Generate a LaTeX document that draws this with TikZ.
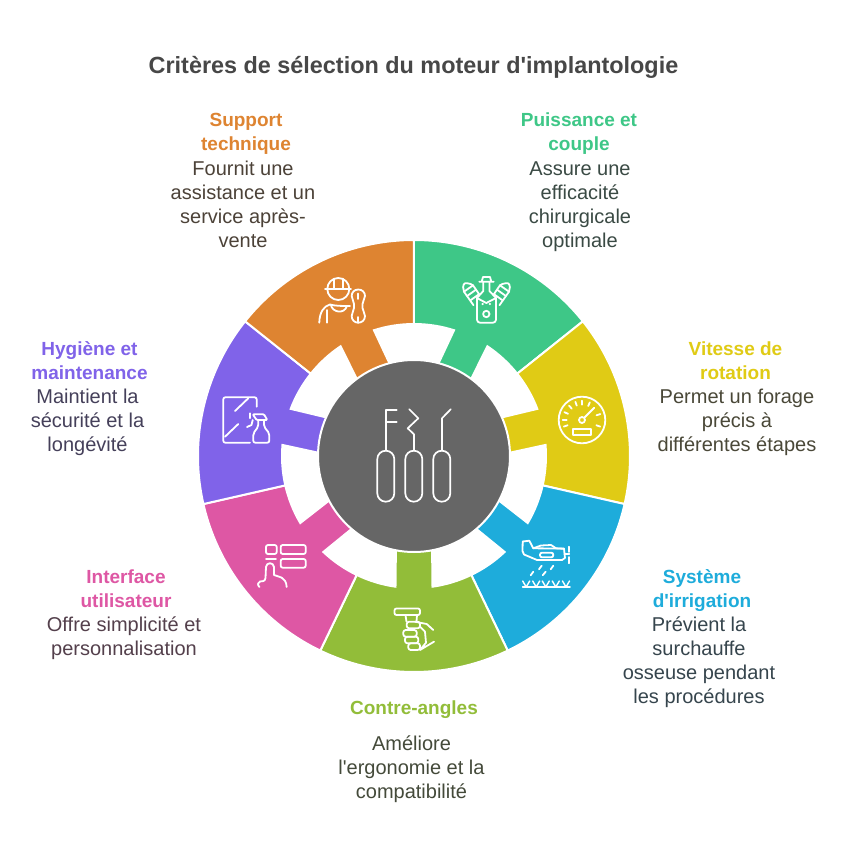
\documentclass[tikz,border=0pt]{standalone}
\usepackage{fontspec}
\setmainfont{Liberation Sans}[Ligatures=TeXOff]
\definecolor{sgreen}{HTML}{3EC787}
\definecolor{syellow}{HTML}{E0CB15}
\definecolor{sblue}{HTML}{1EACDB}
\definecolor{solive}{HTML}{92BD39}
\definecolor{spink}{HTML}{DE57A4}
\definecolor{spurple}{HTML}{8063E9}
\definecolor{sorange}{HTML}{DE8431}
\definecolor{tgreen}{HTML}{3A4A44}
\definecolor{tyellow}{HTML}{4A4838}
\definecolor{tblue}{HTML}{36454D}
\definecolor{tolive}{HTML}{444A3A}
\definecolor{tpink}{HTML}{54404C}
\definecolor{tpurple}{HTML}{45405A}
\definecolor{torange}{HTML}{4C4238}
\newcommand\fs{\rule{0pt}{18pt}}
\newcommand\ls{\rule[-6pt]{0pt}{6pt}}
\tikzset{
  sector/.style={draw=white,line width=2pt,line join=miter},
  ico/.style={draw=white,line width=1.8pt,line cap=round,line join=round},
  lab/.style={align=center,inner sep=0pt,font=\fontsize{20}{24}\selectfont},
  hd/.style={align=center,inner sep=0pt,font=\fontsize{19}{24}\selectfont\bfseries},
}
\newcommand\enginepiston{%
    \draw[ico] (479,294)--(473,285.3) (473.5,305.2)--(464,291.7);
    \draw[ico] (473,285.3) .. controls (470,283) and (465,283) .. (464.5,283.5) .. controls (463,285) and (462.5,289) .. (464,291.7);
    \draw[ico] (473,285.3)--(464,291.7) (476.1,289.6)--(467.1,296) (479.3,294)--(470.3,300.4);
}
\begin{document}
\begin{tikzpicture}[x=1pt,y=1pt]
\useasboundingbox (-414,-396) rectangle (432,456);
\fill[white] (-414,-396) rectangle (432,456);
\foreach \a/\c in {90/sgreen,38.5714/syellow,-12.8571/sblue,-64.2857/solive,-115.7143/spink,-167.1429/spurple,-218.5714/sorange}{
  \pgfmathsetmacro\b{\a-51.4286}
  \pgfmathsetmacro\m{\a-25.7143}
  \fill[\c,sector] (\a:216) arc[start angle=\a,end angle=\b,radius=216pt]
    -- (\b:132) arc[start angle=\b,end angle={\m-8.06},radius=132pt]
    -- ({\m-11.1}:94) arc[start angle={\m-11.1},end angle={\m+11.1},radius=94pt]
    -- ({\m+8.06}:132) arc[start angle={\m+8.06},end angle=\a,radius=132pt] -- cycle;
}
\fill[black!60,draw=white,line width=2pt] (0,0) circle[radius=96pt];
\begin{scope}[shift={(-414,456)},yscale=-1]
  % centre
  \draw[ico,line width=1.7pt,rounded corners=8.4pt] (377.3,450.7) rectangle (394.3,501.7);
  \draw[ico,line width=1.7pt,rounded corners=8.4pt] (405.3,450.7) rectangle (422.3,501.7);
  \draw[ico,line width=1.7pt,rounded corners=8.4pt] (433.3,450.7) rectangle (450.3,501.7);
  \draw[ico,line width=1.7pt] (396.7,410)--(386,410)--(386,450.7) (386,422)--(396.7,422);
  \draw[ico,line width=1.7pt] (414,450.7)--(414,434.3)--(407.7,428.3)--(418.3,418.3)--(409.3,409.3);
  \draw[ico,line width=1.7pt] (442,450.7)--(442,418.3)--(450.7,409.3);
  % orange: technician
  \draw[ico] (338.3,289) circle[radius=11pt];
  \draw[ico] (325,288.7)--(351,288.7) (334,278.8)--(334,288.7) (342.7,278.8)--(342.7,288.7);
  \draw[ico] (319.3,322.7) .. controls (319.5,312) and (324,306) .. (330,304.5) .. controls (335,306) and (342,306) .. (350,306);
  \draw[ico] (326.7,310)--(326.7,322.7);
  \draw[ico] (331,305) .. controls (332,312) and (344,315) .. (347,306);
  \draw[ico] (358.3,289.5) .. controls (362.5,289.5) and (365,292.5) .. (365,296) .. controls (365,299) and (362.5,301) .. (362.5,304) -- (362.5,308) .. controls (362.5,311) and (365,312.5) .. (365,316) .. controls (365,320) and (362,322.7) .. (358.3,322.7) .. controls (354.5,322.7) and (351.7,320) .. (351.7,316) .. controls (351.7,312.5) and (354,311) .. (354,308) -- (354,304) .. controls (354,301) and (351.7,299) .. (351.7,296) .. controls (351.7,292.5) and (354.2,289.5) .. (358.3,289.5) -- cycle;
  \draw[ico] (358.3,293.5)--(358.3,299) (358.3,317)--(358.3,322.7);
  % green: engine
  \draw[ico] (481.7,281.7) -- (483,277) -- (490,277) -- (491.3,281.7) -- cycle (479.3,281.7)--(493.7,281.7);
  \draw[ico] (483.3,281.7)--(483.3,291) -- (477,298) (489.5,281.7)--(489.5,291) -- (496,298);
  \draw[ico,rounded corners=3pt] (477,298)--(477,322.7)--(496,322.7)--(496,298);
  \draw[ico] (486.3,314) circle[radius=3.2pt];
  \fill[white] (482.7,304) circle[radius=1.2pt] (489.9,304) circle[radius=1.2pt];
  \draw[ico] (477,298) -- (486.3,303) -- (496,298);
  \begin{scope}\enginepiston\end{scope}
  \begin{scope}[shift={(973,0)},xscale=-1]\enginepiston\end{scope}
  % yellow: gauge
  \draw[ico] (582,420) circle[radius=23.3pt];
  \draw[ico] (582,420) circle[radius=3pt];
  \draw[ico] (584.5,417.5)--(594.3,407.7);
  \draw[ico] (572.7,429) rectangle (591,435);
  % blue: plane
  \draw[ico] (522.7,541.5)--(529.3,540.7)--(533.3,548.3)--(541,545.5)--(551,545)--(556,548.3)--(564,548.8)--(565,558)--(562,560)--(537,560)--(524,554.5)--(522.5,551)--cycle;
  \draw[ico] (533.3,548.3)--(564,548.6);
  \draw[ico,rounded corners=2pt] (540,552.7) rectangle (553.3,557.3);
  \draw[ico] (569.3,546.7)--(569.3,552) (569.3,557)--(569.3,563.3) (564.5,554.3)--(569.3,554.3);
  \draw[ico] (541.7,565.7)--(539,569.3) (553.3,565.7)--(550.7,569.3) (533.3,571.7)--(530.7,575.3) (545.7,571.7)--(542.7,575.3);
  \draw[ico] (522.7,587.3)--(570,587.3);
  \foreach \x in {522.7,532.7,542.3,552.3,562.5}{
    \draw[ico,line width=1.4pt] (\x,581)--(\x+3.5,587)--(\x+7,581);
  }
  % olive: handpiece
  \draw[ico,rounded corners=2pt] (394.5,608.5) rectangle (420,615);
  \draw[ico] (405.5,615)--(406.5,621.7) (417,615)--(416.5,621.7);
  \draw[ico,rounded corners=2.4pt] (406.7,621.7) rectangle (420,628.3);
  \draw[ico,rounded corners=2.4pt] (403.3,630) rectangle (416.7,636.7);
  \draw[ico,rounded corners=2.4pt] (405,636.7) rectangle (418.3,643.3);
  \draw[ico,rounded corners=2.4pt] (408.3,643.3) rectangle (420,650);
  \draw[ico] (415,621.7)--(426.7,624)--(433.3,630) (420,626.7)--(425,631.7)--(426,642.7)--(420,650)--(434,641.7);
  % pink: interface
  \draw[ico,rounded corners=2pt] (266,545) rectangle (276.7,554);
  \draw[ico,rounded corners=2pt] (280.7,545) rectangle (305.7,554);
  \draw[ico,rounded corners=2pt] (280.7,559) rectangle (305.7,567.7);
  \draw[ico] (266,559.3)--(276,559.3);
  \draw[ico] (259.5,587) .. controls (257,585) and (258,582) .. (260,581.5) .. controls (262,581) and (265,582) .. (265.5,578) -- (266,567) .. controls (266.5,562) and (273.5,562) .. (274,567) -- (274,575) .. controls (278,577) and (286,576) .. (286.7,587);
  % purple: spray
  \draw[ico,rounded corners=2pt] (256.7,406.7)--(256.7,397.3)--(223.3,397.3)--(223.3,442.7)--(250,442.7);
  \draw[ico] (235,411)--(248.3,398.3) (225,436.7)--(238.3,424);
  \draw[ico,rounded corners=1pt] (252.7,414.3)--(264,414.3)--(267.3,420)--(256.7,420)--cycle;
  \draw[ico,rounded corners=2pt] (258.3,420)--(258.3,426.7)--(253.3,433.3)--(253.3,442.7)--(269.3,442.7)--(269.3,433.3)--(264,426.7)--(264,420);
  \draw[ico] (250,413.3)--(250,418.3) (247,427)--(251.5,425)--(252.7,420);
\end{scope}
% gauge ticks (y up)
\begin{scope}[shift={(168,36)}]
  \foreach \t in {200,180,156,132,110,90,66,18,-20}{
    \draw[ico] (\t:15.3)--(\t:19.3);
  }
\end{scope}
\begin{scope}[shift={(-414,456)},yscale=-1]
  \node[font=\fontsize{23.4}{28}\selectfont\bfseries,text=black!72,inner sep=0pt,text height=20pt,text depth=8pt] (title) at (413.5,68) {Critères de sélection du moteur d'implantologie};
  \node[hd,text=sorange] (h1) at (246,133) {\fs Support\\technique\ls};
  \node[lab,text=torange] (b1) at (243,205.5) {\fs Fournit une\\assistance et un\\service après-\\vente\ls};
  \node[hd,text=sgreen] (h2) at (579,133) {\fs Puissance et\\couple\ls};
  \node[lab,text=tgreen] (b2) at (580,205.5) {\fs Assure une\\efficacité\\chirurgicale\\optimale\ls};
  \node[hd,text=syellow] (h3) at (735.5,361) {\fs Vitesse de\\rotation\ls};
  \node[lab,text=tyellow] (b3) at (737,421) {\fs Permet un forage\\précis à\\différentes étapes\ls};
  \node[hd,text=sblue] (h4) at (702,589) {\fs Système\\d'irrigation\ls};
  \node[lab,text=tblue] (b4) at (699,661) {\fs Prévient la\\surchauffe\\osseuse pendant\\les procédures\ls};
  \node[hd,text=solive] (h5) at (414,708.5) {\fs Contre-angles\ls};
  \node[lab,text=tolive] (b5) at (411.5,768.5) {\fs Améliore\\l'ergonomie et la\\compatibilité\ls};
  \node[hd,text=spink] (h6) at (126,589) {\fs Interface\\utilisateur\ls};
  \node[lab,text=tpink] (b6) at (124,637) {\fs Offre simplicité et\\personnalisation\ls};
  \node[hd,text=spurple] (h7) at (89.5,361) {\fs Hygiène et\\maintenance\ls};
  \node[lab,text=tpurple] (b7) at (87.5,421) {\fs Maintient la\\sécurité et la\\longévité\ls};
\end{scope}
\end{tikzpicture}
\end{document}
